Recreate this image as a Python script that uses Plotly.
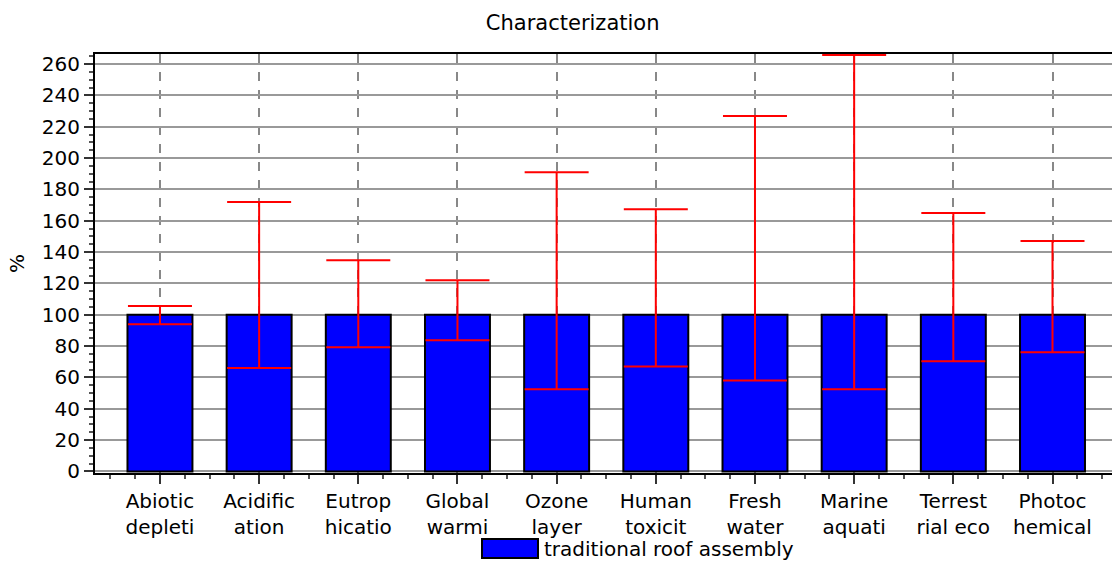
import plotly.graph_objects as go

categories = ["Abiotic<br>depleti", "Acidific<br>ation", "Eutrop<br>hicatio", "Global<br>warmi",
              "Ozone<br>layer", "Human<br>toxicit", "Fresh<br>water", "Marine<br>aquati",
              "Terrest<br>rial eco", "Photoc<br>hemical"]
values = [100, 100, 100, 100, 100, 100, 100, 100, 100, 100]
upper = [105.5, 172, 134.8, 122, 191, 167.4, 226.8, 265.8, 164.9, 147]
lower = [94, 66, 79.2, 83.7, 52.4, 67, 58, 52.4, 70.3, 76]
series_name = "traditional roof assembly"
title_text = "Characterization"
y_ticks = list(range(0, 261, 20))

xs = list(range(len(categories)))
err_plus = [u - v for u, v in zip(upper, values)]
err_minus = [v - l for v, l in zip(values, lower)]

FONT = "DejaVu Sans"

fig = go.Figure()
fig.add_trace(go.Bar(
    x=xs, y=values, width=0.655, name=series_name,
    marker=dict(color="#0000FF", line=dict(color="black", width=2)),
    error_y=dict(type="data", symmetric=False, array=err_plus, arrayminus=err_minus,
                 color="#FF0000", thickness=2, width=32),
    showlegend=False,
))

fig.update_layout(
    width=1112, height=562,
    margin=dict(l=95, r=0, t=54, b=89, autoexpand=False),
    paper_bgcolor="white", plot_bgcolor="white",
    font=dict(family=FONT, size=20, color="black"),
    title=dict(text=title_text, x=0.515, xanchor="center", y=0.972, yanchor="top",
               font=dict(family=FONT, size=21, color="black")),
    bargap=0.3,
)

fig.update_xaxes(
    automargin=False,
    range=[-0.655, 9.6],
    tickmode="array", tickvals=xs, ticktext=categories,
    ticks="outside", ticklen=9, tickwidth=1.5, tickcolor="#333",
    showgrid=True, gridcolor="#888", griddash="dash", gridwidth=1.5,
    showline=True, linecolor="black", linewidth=2, mirror=True,
    zeroline=False,
    minor=dict(dtick=0.25, tick0=0, ticks="outside", ticklen=4, tickcolor="#555", showgrid=False),
    tickfont=dict(family=FONT, size=20, color="black"),
)
fig.update_yaxes(
    automargin=False,
    range=[-1, 266.4],
    tickmode="array", tickvals=y_ticks,
    ticks="outside", ticklen=9, tickwidth=1.5, tickcolor="#333",
    showgrid=True, gridcolor="#999", gridwidth=1.5,
    showline=True, linecolor="black", linewidth=2, mirror=True,
    zeroline=False,
    minor=dict(dtick=5, tick0=0, ticks="outside", ticklen=4, tickcolor="#555", showgrid=False),
    title=dict(text="%", standoff=12, font=dict(family=FONT, size=20, color="black")),
    tickfont=dict(family=FONT, size=20, color="black"),
)

# legend drawn as a swatch plus label below the plot
fig.add_shape(type="rect", xref="paper", yref="paper",
              x0=(482 - 95) / 1017, x1=(538 - 95) / 1017,
              y0=-(558 - 473) / 419, y1=-(539 - 473) / 419,
              fillcolor="#0000FF", line=dict(color="black", width=2))
fig.add_annotation(text=series_name, xref="paper", yref="paper",
                   x=(542 - 95) / 1017, y=-(563 - 473) / 419,
                   xanchor="left", yanchor="bottom", showarrow=False,
                   font=dict(family=FONT, size=20, color="black"))

fig.write_html("out.html", config={"displayModeBar": False},
               post_script="document.body.style.margin='0px';")
